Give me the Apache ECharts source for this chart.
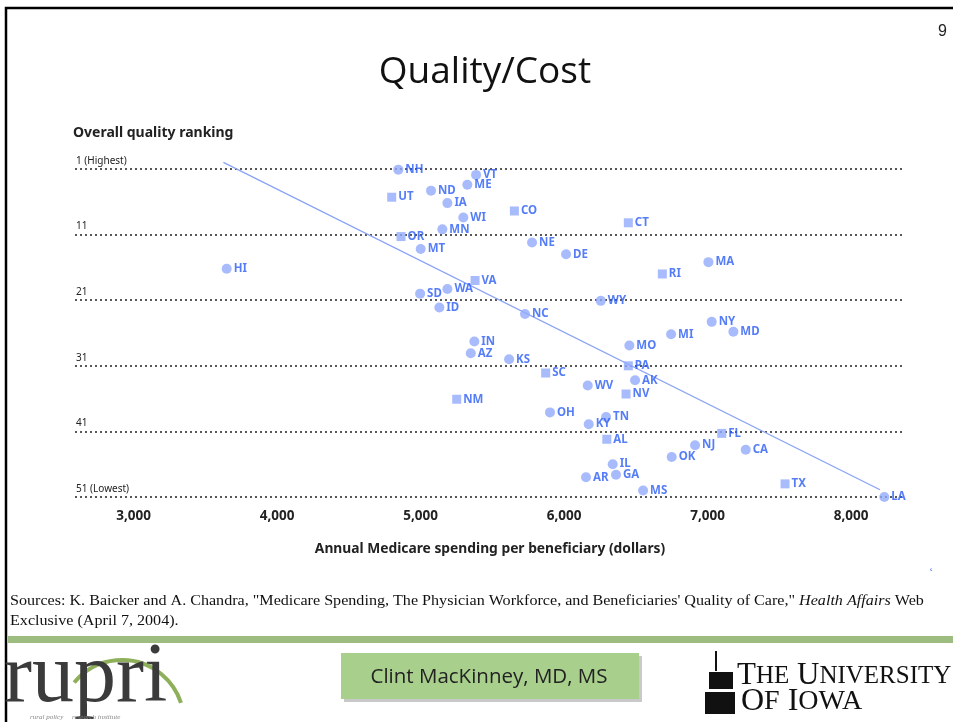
<!DOCTYPE html>
<html>
<head>
<meta charset="utf-8">
<title>Quality/Cost</title>
<script src="https://cdn.jsdelivr.net/npm/echarts@6/dist/echarts.min.js"></script>
<style>
  html, body { margin: 0; padding: 0; background: #fff; }
  #main { width: 953px; height: 722px; }
</style>
</head>
<body>
<div id="main"></div>
<script>
// state, spending per beneficiary (dollars), overall quality rank
var states = ['NH', 'VT', 'ME', 'ND', 'UT', 'IA', 'CO', 'WI', 'CT', 'MN',
    'OR', 'NE', 'MT', 'DE', 'MA', 'HI', 'RI', 'VA', 'WA', 'SD',
    'WY', 'ID', 'NC', 'NY', 'MD', 'MI', 'IN', 'MO', 'AZ', 'KS',
    'PA', 'SC', 'AK', 'WV', 'NV', 'NM', 'OH', 'TN', 'KY', 'FL',
    'AL', 'NJ', 'CA', 'OK', 'IL', 'GA', 'AR', 'TX', 'MS', 'LA'];
var spending = [4845, 5387, 5326, 5073, 4799, 5187, 5654, 5298, 6448, 5152,
    4864, 5777, 5001, 6014, 7006, 3649, 6685, 5380, 5187, 4997,
    6256, 5131, 5728, 7029, 7180, 6746, 5375, 6455, 5350, 5617,
    6448, 5872, 6495, 6165, 6432, 5252, 5902, 6293, 6172, 7099,
    6298, 6913, 7266, 6750, 6339, 6362, 6153, 7540, 6551, 8232];
var ranking = [1.1, 1.9, 3.4, 4.3, 5.3, 6.2, 7.4, 8.4, 9.2, 10.2,
    11.3, 12.2, 13.2, 14.0, 15.2, 16.2, 17.0, 18.0, 19.3, 20.0,
    21.1, 22.1, 23.1, 24.3, 25.8, 26.2, 27.3, 27.9, 29.1, 30.0,
    31.0, 32.1, 33.2, 34.0, 35.3, 36.1, 38.1, 38.8, 39.9, 41.3,
    42.2, 43.1, 43.8, 44.9, 46.0, 47.6, 48.0, 49.0, 50.0, 51.0];
// states drawn with square markers in the source exhibit
var squareStates = ['UT', 'CO', 'CT', 'OR', 'RI', 'VA', 'SC', 'PA', 'NV', 'NM', 'AL', 'FL', 'TX'];
var xTicks = [3000, 4000, 5000, 6000, 7000, 8000];
var trendX = [3626, 8202];
var trendRank = [0, 49.9];

var roundPts = [], squarePts = [];
for (var i = 0; i < states.length; i++) {
    var p = { name: states[i], value: [spending[i], ranking[i]] };
    if (squareStates.indexOf(states[i]) >= 0) squarePts.push(p);
    else roundPts.push(p);
}
var trendPts = [];
for (var j = 0; j < trendX.length; j++) trendPts.push([trendX[j], trendRank[j]]);

var markColor = '#92aafc';
var stateLabel = {
    show: true,
    position: 'right',
    distance: 2,
    formatter: '{b}',
    color: '#2a5cf5',
    fontFamily: 'Noto Sans',
    fontWeight: 'bold',
    fontSize: 11.5
};

var chart = echarts.init(document.getElementById('main'));
chart.setOption({
    backgroundColor: '#fff',
    animation: false,
    grid: { left: 75, right: 48, top: 169, bottom: 225 },
    xAxis: {
        type: 'value',
        min: 2592,
        max: 8376,
        name: 'Annual Medicare spending per beneficiary (dollars)',
        nameLocation: 'middle',
        nameGap: 45,
        nameTextStyle: { fontFamily: 'Noto Sans', fontWeight: 'bold', fontSize: 13.8, color: '#222' },
        axisLine: { show: false },
        axisTick: { show: false },
        splitLine: { show: false },
        axisLabel: {
            customValues: xTicks,
            margin: 12,
            fontFamily: 'Noto Sans',
            fontWeight: 'bold',
            fontSize: 13.5,
            color: '#222',
            formatter: function (v) { return echarts.format.addCommas(v); }
        }
    },
    yAxis: {
        type: 'value',
        inverse: true,
        min: 1,
        max: 51,
        interval: 10,
        axisLine: { show: false },
        axisTick: { show: false },
        splitLine: { show: true, lineStyle: { color: '#222', width: 1.5, type: [2, 3] } },
        axisLabel: {
            inside: true,
            margin: 1,
            verticalAlign: 'bottom',
            padding: [0, 0, 3, 0],
            fontFamily: 'Noto Sans',
            fontSize: 10,
            color: '#222',
            formatter: function (v) {
                if (v === 1) return '1 (Highest)';
                if (v === 51) return '51 (Lowest)';
                return String(v);
            }
        }
    },
    series: [
        {
            type: 'line',
            data: trendPts,
            symbol: 'none',
            clip: false,
            silent: true,
            lineStyle: { color: '#8aa3f6', width: 1.3 },
            z: 1
        },
        {
            type: 'scatter',
            data: roundPts,
            symbol: 'circle',
            symbolSize: 10,
            itemStyle: { color: markColor },
            label: stateLabel,
            z: 3
        },
        {
            type: 'scatter',
            data: squarePts,
            symbol: 'rect',
            symbolSize: 9,
            itemStyle: { color: markColor },
            label: stateLabel,
            z: 3
        }
    ],
    graphic: [
        // slide border
        { type: 'rect', shape: { x: 6, y: 8, width: 960, height: 730 }, style: { fill: 'none', stroke: '#000', lineWidth: 2.5 }, silent: true },
        { type: 'text', x: 947, y: 32, style: { text: '9', fontFamily: 'Liberation Sans', fontSize: 16, fill: '#222', align: 'right', verticalAlign: 'middle' } },
        { type: 'text', x: 485, y: 72, style: { text: 'Quality/Cost', fontFamily: 'Open Sans', fontSize: 37, fill: '#111', align: 'center', verticalAlign: 'middle' } },
        { type: 'text', x: 73, y: 133, style: { text: 'Overall quality ranking', fontFamily: 'Noto Sans', fontWeight: 'bold', fontSize: 14, fill: '#222', verticalAlign: 'middle' } },
        { type: 'text', x: 930, y: 565, style: { text: '\u02db', fontSize: 10, fill: '#2a5cf5', verticalAlign: 'middle' } },
        // source note
        {
            type: 'text', x: 10, y: 591, scaleX: 1.15,
            style: {
                text: 'Sources: K. Baicker and A. Chandra, "Medicare Spending, The Physician Workforce, and Beneficiaries\' Quality of Care," {i|Health Affairs} Web\nExclusive (April 7, 2004).',
                fontFamily: 'Liberation Serif', fontSize: 14, fill: '#111', lineHeight: 20,
                rich: { i: { fontFamily: 'Liberation Serif', fontStyle: 'italic', fontSize: 14, fill: '#111' } }
            }
        },
        { type: 'rect', shape: { x: 8, y: 636, width: 945, height: 7 }, style: { fill: '#9cbc80' }, silent: true },
        // presenter box
        { type: 'rect', shape: { x: 344, y: 656, width: 298, height: 46 }, style: { fill: '#c9c9c9' }, silent: true },
        { type: 'rect', shape: { x: 341, y: 653, width: 298, height: 46 }, style: { fill: '#a8cf8c' }, silent: true },
        { type: 'text', x: 489, y: 677, style: { text: 'Clint MacKinney, MD, MS', fontFamily: 'Open Sans', fontSize: 20.5, fill: '#222', align: 'center', verticalAlign: 'middle' } },
        // rupri logo
        { type: 'arc', shape: { cx: 122, cy: 722, r: 62, startAngle: Math.PI * 1.22, endAngle: Math.PI * 1.9 }, style: { stroke: '#8fb05a', lineWidth: 4, fill: 'none' }, silent: true },
        { type: 'text', x: 4, y: 679, style: { text: 'rupri', fontFamily: 'Liberation Serif', fontSize: 84, fill: '#3b3b3b', verticalAlign: 'middle' } },
        { type: 'text', x: 30, y: 717, style: { text: 'rural policy     research institute', fontFamily: 'Liberation Serif', fontStyle: 'italic', fontSize: 7, fill: '#888', verticalAlign: 'middle' } },
        // university of iowa logo
        { type: 'rect', shape: { x: 705, y: 692, width: 30, height: 22 }, style: { fill: '#111' }, silent: true },
        { type: 'rect', shape: { x: 709, y: 672, width: 24, height: 17 }, style: { fill: '#111' }, silent: true },
        { type: 'rect', shape: { x: 715, y: 651, width: 2, height: 20 }, style: { fill: '#111' }, silent: true },
        { type: 'text', x: 737, y: 676, style: { text: 'T{s|HE} U{s|NIVERSITY}', fontFamily: 'Liberation Serif', fontSize: 31, fill: '#111', verticalAlign: 'middle', rich: { s: { fontFamily: 'Liberation Serif', fontSize: 25, fill: '#111' } } } },
        { type: 'text', x: 741, y: 702, style: { text: 'O{s|F} I{s|OWA}', fontFamily: 'Liberation Serif', fontSize: 32, fill: '#111', verticalAlign: 'middle', rich: { s: { fontFamily: 'Liberation Serif', fontSize: 28, fill: '#111' } } } }
    ]
});
</script>
</body>
</html>
